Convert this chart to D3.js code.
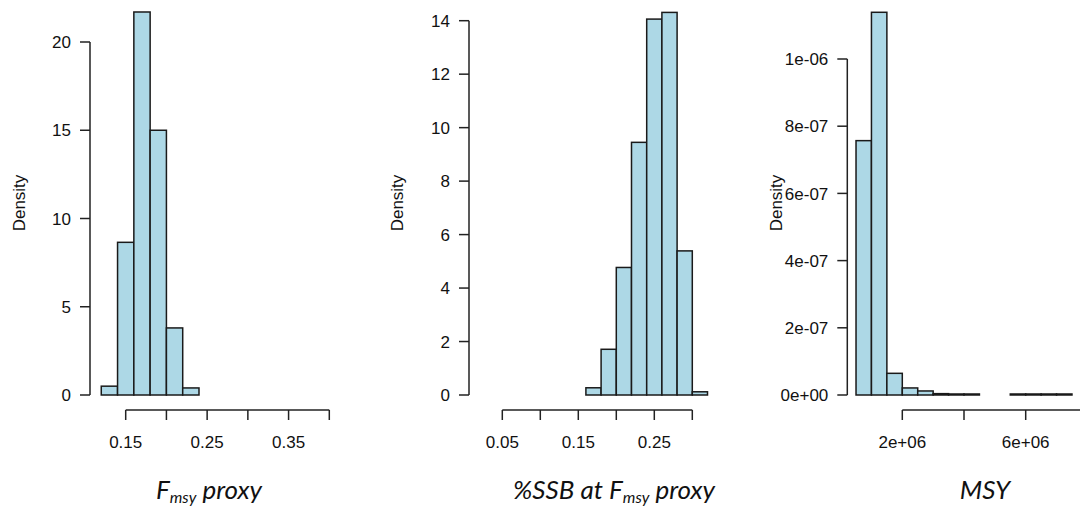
<!DOCTYPE html>
<html>
<head>
<meta charset="utf-8">
<script src="https://cdn.jsdelivr.net/npm/d3@7"></script>
<style>
  body { margin: 0; background: #fff; }
  svg { display: block; }
  text { font-family: "Liberation Sans", Arial, sans-serif; fill: #111; }
  .title { font-family: Lato, "Open Sans", sans-serif; font-style: italic; }
</style>
</head>
<body>
<svg id="chart"></svg>
<script>
// bin edges and densities
var fmsyEdges = [0.12, 0.14, 0.16, 0.18, 0.20, 0.22, 0.24, 0.26, 0.28, 0.30, 0.32, 0.34, 0.36, 0.38, 0.40];
var fmsyDensity = [0.5, 8.65, 21.7, 15.0, 3.8, 0.4, 0, 0, 0, 0, 0, 0, 0, 0];
var fmsyXTicks = [0.15, 0.20, 0.25, 0.30, 0.35, 0.40];
var fmsyXLabels = ["0.15", "", "0.25", "", "0.35", ""];
var fmsyYTicks = [0, 5, 10, 15, 20];
var fmsyYLabels = ["0", "5", "10", "15", "20"];

var ssbEdges = [0.02, 0.04, 0.06, 0.08, 0.10, 0.12, 0.14, 0.16, 0.18, 0.20, 0.22, 0.24, 0.26, 0.28, 0.30, 0.32];
var ssbDensity = [0, 0, 0, 0, 0, 0, 0, 0.27, 1.71, 4.77, 9.45, 14.06, 14.31, 5.39, 0.12];
var ssbXTicks = [0.05, 0.10, 0.15, 0.20, 0.25, 0.30];
var ssbXLabels = ["0.05", "", "0.15", "", "0.25", ""];
var ssbYTicks = [0, 2, 4, 6, 8, 10, 12, 14];
var ssbYLabels = ["0", "2", "4", "6", "8", "10", "12", "14"];

var msyEdges = [0.5e6, 1e6, 1.5e6, 2e6, 2.5e6, 3e6, 3.5e6, 4e6, 4.5e6, 5e6, 5.5e6, 6e6, 6.5e6, 7e6, 7.5e6, 8e6];
var msyDensity = [7.57e-7, 1.139e-6, 6.45e-8, 2.1e-8, 1.2e-8, 4e-9, 3e-9, 3e-9, 0, 0, 3e-9, 3e-9, 3e-9, 3e-9, 0];
var msyXTicks = [2e6, 4e6, 6e6, 8e6];
var msyXLabels = ["2e+06", "", "6e+06", ""];
var msyYTicks = [0, 2e-7, 4e-7, 6e-7, 8e-7, 1e-6];
var msyYLabels = ["0e+00", "2e-07", "4e-07", "6e-07", "8e-07", "1e-06"];

var width = 1080, height = 512;
var svg = d3.select("#chart").attr("width", width).attr("height", height);

var y0 = 395, xAxisY = 410, tickLen = 10;

var panels = [
  { edges: fmsyEdges, dens: fmsyDensity, xt: fmsyXTicks, xl: fmsyXLabels, yt: fmsyYTicks, yl: fmsyYLabels,
    xd: [0.15, 0.40], xr: [125.7, 329.3], yd: [0, 20], yTop: 42, axisX: 90, ylabX: 19,
    title: ["F", "msy", " proxy"], titleX: 209 },
  { edges: ssbEdges, dens: ssbDensity, xt: ssbXTicks, xl: ssbXLabels, yt: ssbYTicks, yl: ssbYLabels,
    xd: [0.05, 0.30], xr: [502.3, 692.3], yd: [0, 14], yTop: 20.7, axisX: 469, ylabX: 397,
    title: ["%SSB at F", "msy", " proxy"], titleX: 614 },
  { edges: msyEdges, dens: msyDensity, xt: msyXTicks, xl: msyXLabels, yt: msyYTicks, yl: msyYLabels,
    xd: [2e6, 6e6], xr: [902.3, 1025.7], yd: [0, 1e-6], yTop: 59, axisX: 847.3, ylabX: 776,
    title: ["MSY"], titleX: 985 }
];

panels.forEach(function(p) {
  var x = d3.scaleLinear().domain(p.xd).range(p.xr);
  var y = d3.scaleLinear().domain(p.yd).range([y0, p.yTop]);
  var g = svg.append("g");

  var bins = p.dens.map(function(d, i) { return { x0: p.edges[i], x1: p.edges[i + 1], v: d }; });

  // bars (zero-height ones show up as the baseline)
  g.selectAll("rect.bar").data(bins).enter().append("rect")
    .attr("class", "bar")
    .attr("x", function(d) { return x(d.x0); })
    .attr("width", function(d) { return x(d.x1) - x(d.x0); })
    .attr("y", function(d) { return y(d.v); })
    .attr("height", function(d) { return y0 - y(d.v); })
    .attr("fill", "#add8e6")
    .attr("stroke", "#1a1a1a")
    .attr("stroke-width", 1.5);

  // x axis, R style: line from first to last tick
  var xa = g.append("g").attr("transform", "translate(0," + xAxisY + ")");
  xa.append("line")
    .attr("x1", x(p.xt[0])).attr("x2", x(p.xt[p.xt.length - 1]))
    .attr("stroke", "#222").attr("stroke-width", 1.5);
  xa.selectAll("line.tk").data(p.xt).enter().append("line")
    .attr("class", "tk")
    .attr("x1", function(d) { return x(d); }).attr("x2", function(d) { return x(d); })
    .attr("y1", 0).attr("y2", tickLen)
    .attr("stroke", "#222").attr("stroke-width", 1.5);
  xa.selectAll("text").data(p.xt).enter().append("text")
    .attr("x", function(d) { return x(d); })
    .attr("y", 38)
    .attr("text-anchor", "middle")
    .style("font-size", "17px")
    .text(function(d, i) { return p.xl[i]; });

  // y axis
  var ya = g.append("g").attr("transform", "translate(" + p.axisX + ",0)");
  ya.append("line")
    .attr("y1", y(p.yt[0])).attr("y2", y(p.yt[p.yt.length - 1]))
    .attr("stroke", "#222").attr("stroke-width", 1.5);
  ya.selectAll("line.tk").data(p.yt).enter().append("line")
    .attr("class", "tk")
    .attr("y1", function(d) { return y(d); }).attr("y2", function(d) { return y(d); })
    .attr("x1", -tickLen).attr("x2", 0)
    .attr("stroke", "#222").attr("stroke-width", 1.5);
  ya.selectAll("text").data(p.yt).enter().append("text")
    .attr("x", -19)
    .attr("y", function(d) { return y(d); })
    .attr("dy", "0.36em")
    .attr("text-anchor", "end")
    .style("font-size", "17px")
    .text(function(d, i) { return p.yl[i]; });

  g.append("text")
    .attr("transform", "translate(" + p.ylabX + ",203) rotate(-90)")
    .attr("dy", "0.36em")
    .attr("text-anchor", "middle")
    .style("font-size", "17px")
    .text("Density");

  // title under the panel, with subscript
  var t = g.append("text")
    .attr("class", "title")
    .attr("x", p.titleX)
    .attr("y", 499)
    .attr("text-anchor", "middle")
    .style("font-size", "26px");
  t.append("tspan").text(p.title[0]);
  if (p.title.length > 1) {
    t.append("tspan").attr("dy", 4).style("font-size", "16px").text(p.title[1]);
    t.append("tspan").attr("dy", -4).text(p.title[2]);
  }
});
</script>
</body>
</html>
